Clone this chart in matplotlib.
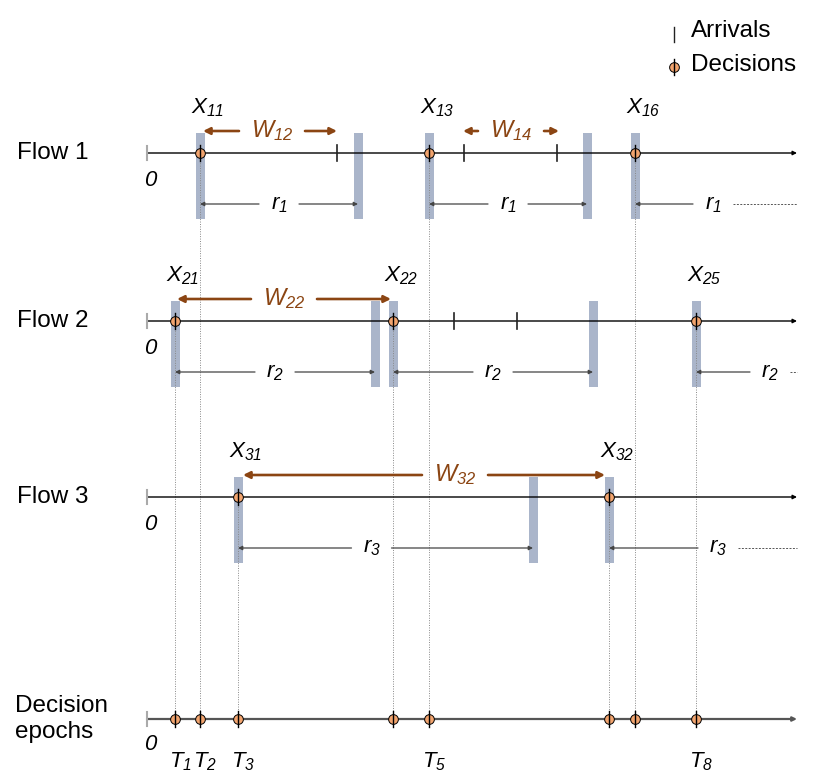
import matplotlib.pyplot as plt

plt.rcParams['font.family'] = ['Liberation Sans', 'DejaVu Sans']
plt.rcParams['mathtext.fontset'] = 'custom'
plt.rcParams['mathtext.it'] = 'Liberation Sans:italic'
plt.rcParams['mathtext.rm'] = 'Liberation Sans:italic'

# data (time units along each flow axis)
flow_names = ['Flow 1', 'Flow 2', 'Flow 3']
decision_times = [[53, 282, 488], [28, 246, 549], [91, 462]]
decision_ids = [['11', '13', '16'], ['21', '22', '25'], ['31', '32']]
arrival_times = [[190, 317, 410], [307, 370], []]
r_values = [158, 200, 295]
r_names = ['1', '2', '3']
window_names = ['12', '14', '22', '32']
window_flow = [0, 0, 1, 2]
window_start = [56, 316, 30, 96]
window_end = [190, 412, 244, 458]
window_label_t = [125, 364, 137, 308]
tail_label_t = [566, 623, 571]
epoch_labels = ['1', '2', '3', '', '5', '', '', '8']

# layout
ROW_Y = [153, 321, 497]
EPOCH_Y = 719
AXIS_END = 650
BAR_COLOR = '#aab5ca'
BROWN = '#8b4513'
ORANGE = '#f2a46e'
FS = 17.5
FS_MATH = 16

fig = plt.figure(figsize=(8.3, 7.78), dpi=100)
ax = fig.add_axes([0, 0, 1, 1])
ax.set_xlim(-147, 683)
ax.set_ylim(778, 0)
ax.axis('off')


def time_axis(y, color='black', lw=1.0):
    ax.annotate('', xy=(AXIS_END, y), xytext=(0, y),
                arrowprops=dict(arrowstyle='-|>', color=color, lw=lw,
                                mutation_scale=6, shrinkA=0, shrinkB=0),
                zorder=3)
    ax.plot([0, 0], [y - 7, y + 7], color='#aaaaaa', lw=1.5, zorder=3)
    ax.text(3, y + 27, '0', fontsize=16, fontstyle='italic',
            ha='center', va='center')


def decision_marker(t, y):
    ax.plot([t, t], [y - 8, y + 8], color='black', lw=1, zorder=5)
    ax.plot([t], [y], 'o', ms=7, mfc=ORANGE, mec='black', mew=0.7, zorder=4)


def split_arrow(x0, x1, xc, y, half, label, color, lw, ms, fs):
    for end, start in ((x0, xc - half), (x1, xc + half)):
        ax.annotate('', xy=(end, y), xytext=(start, y),
                    arrowprops=dict(arrowstyle='-|>', color=color, lw=lw,
                                    mutation_scale=ms, shrinkA=0, shrinkB=0),
                    zorder=3)
    ax.text(xc, y, label, color=color if color == BROWN else 'black',
            fontsize=fs, ha='center', va='center')


all_decisions = []
for i, name in enumerate(flow_names):
    y = ROW_Y[i]
    ax.text(-130, y, name, fontsize=FS, ha='left', va='center')
    time_axis(y)
    decs = decision_times[i]
    r = r_values[i]
    for k, t in enumerate(decs):
        all_decisions.append(t)
        # shaded bars at decision and at deadline
        ax.bar(t, 86, width=9, bottom=y - 20, color=BAR_COLOR, zorder=1)
        ax.plot([t, t], [y, EPOCH_Y], color='#888888', lw=0.7,
                ls=(0, (1, 1.5)), zorder=2)
        decision_marker(t, y)
        ax.text(t + 8, y - 45, '$X_{%s}$' % decision_ids[i][k],
                fontsize=FS_MATH, ha='center', va='center')
        if k < len(decs) - 1:
            ax.bar(t + r, 86, width=9, bottom=y - 20, color=BAR_COLOR, zorder=1)
            xc = t + r / 2 + (-14 if i == 2 else 0)
            split_arrow(t, t + r, xc, y + 51, 20, '$r_{%s}$' % r_names[i],
                        '#444444', 0.9, 6, FS_MATH)
        else:
            lx = tail_label_t[i]
            ax.annotate('', xy=(t, y + 51), xytext=(lx - 20, y + 51),
                        arrowprops=dict(arrowstyle='-|>', color='#444444', lw=0.9,
                                        mutation_scale=6, shrinkA=0, shrinkB=0),
                        zorder=3)
            ax.text(lx, y + 51, '$r_{%s}$' % r_names[i], fontsize=FS_MATH,
                    ha='center', va='center')
            ax.plot([lx + 20, AXIS_END], [y + 51, y + 51], color='#555555',
                    lw=0.7, ls=(0, (2, 1.5)))
    for t in arrival_times[i]:
        ax.plot([t, t], [y - 8, y + 8], color='#222222', lw=1.2, zorder=3)

# window arrows
for j, w in enumerate(window_names):
    y = ROW_Y[window_flow[j]] - 22
    split_arrow(window_start[j], window_end[j], window_label_t[j], y, 33,
                '$W_{%s}$' % w, BROWN, 1.9, 10, FS_MATH + 1)

# decision epochs axis
ax.text(-132, EPOCH_Y, 'Decision\nepochs', fontsize=FS, ha='left', va='center',
        linespacing=1.25)
ax.annotate('', xy=(AXIS_END, EPOCH_Y), xytext=(0, EPOCH_Y),
            arrowprops=dict(arrowstyle='-|>', color='#555555', lw=1.6,
                            mutation_scale=6, shrinkA=0, shrinkB=0), zorder=3)
ax.plot([0, 0], [EPOCH_Y - 7, EPOCH_Y + 7], color='#aaaaaa', lw=1.5, zorder=3)
ax.text(3, EPOCH_Y + 26, '0', fontsize=16, fontstyle='italic',
        ha='center', va='center')
for t, lab in zip(sorted(all_decisions), epoch_labels):
    decision_marker(t, EPOCH_Y)
    if lab:
        ax.text(t + 5, EPOCH_Y + 43, '$T_{%s}$' % lab, fontsize=FS_MATH,
                ha='center', va='center')

# legend
ax.plot([527, 527], [27, 42], color='#222222', lw=1.0)
ax.text(544, 31, 'Arrivals', fontsize=FS, ha='left', va='center')
decision_marker(527, 67)
ax.text(544, 65, 'Decisions', fontsize=FS, ha='left', va='center')

fig.savefig('out.png', dpi=100)
